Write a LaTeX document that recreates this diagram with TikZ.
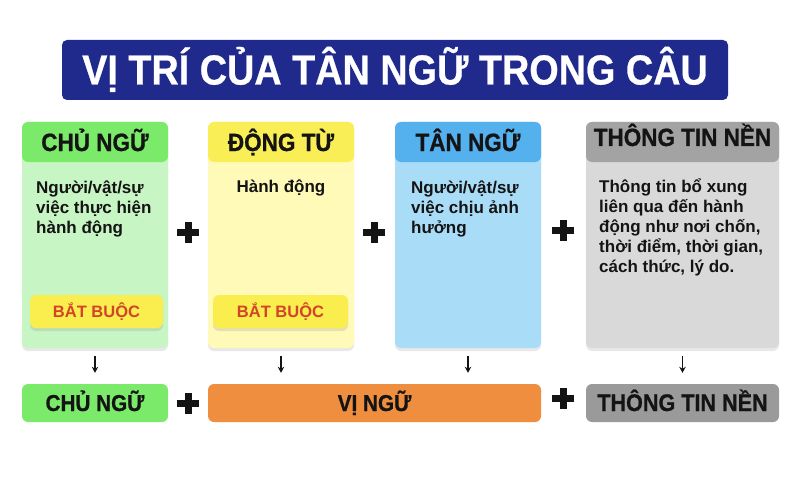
\documentclass[tikz,border=0pt]{standalone}
\usepackage{fontspec}
\setmainfont{Liberation Sans}
\newfontfamily\condfont[FakeStretch=0.9,FakeBold=0.8]{Liberation Sans}
\newfontfamily\titlefont[FakeStretch=0.9,FakeBold=0.6]{Liberation Sans}
\usetikzlibrary{shadows,arrows.meta}
\definecolor{titlebg}{HTML}{1F2A8C}
\definecolor{ghead}{HTML}{7BEA6A}
\definecolor{gbody}{HTML}{C8F5C4}
\definecolor{yhead}{HTML}{F9EE55}
\definecolor{ybody}{HTML}{FFFAB8}
\definecolor{bhead}{HTML}{55B0EE}
\definecolor{bbody}{HTML}{A9DDF7}
\definecolor{khead}{HTML}{A3A3A3}
\definecolor{kbody}{HTML}{D9D9D9}
\definecolor{reqbox}{HTML}{FAEE4E}
\definecolor{reqtext}{HTML}{D2432A}
\definecolor{orangebox}{HTML}{EE8E3E}
\definecolor{graybox}{HTML}{9A9A9A}
\definecolor{ink}{HTML}{141414}
\begin{document}
\begin{tikzpicture}[x=1pt,y=-1pt,
  card/.style={rounded corners=6pt, draw=none, inner sep=0pt,
    drop shadow={opacity=0.18, shadow xshift=0pt, shadow yshift=-3pt}},
  head/.style={rounded corners=6pt, draw=none, inner sep=0pt, minimum height=40pt,
    text height=18pt, text depth=0pt, text=ink,
    font=\condfont\bfseries\fontsize{25}{25}\selectfont},
  body/.style={inner sep=0pt, align=left, text=ink,
    font=\bfseries\fontsize{17}{20}\selectfont},
  req/.style={rounded corners=6pt, fill=reqbox, inner sep=0pt,
    minimum height=33pt, text=reqtext, text height=12pt, text depth=0pt,
    font=\bfseries\fontsize{16.5}{16.5}\selectfont,
    drop shadow={opacity=0.2, shadow xshift=0pt, shadow yshift=-3pt}},
  bottom/.style={rounded corners=6pt, inner sep=0pt, minimum height=38pt,
    text height=16pt, text depth=0pt, text=ink,
    font=\condfont\bfseries\fontsize{23}{23}\selectfont},
  arr/.style={draw=ink, line width=1.4pt, -{Stealth[length=6pt,width=6.5pt]}},
  plussign/.pic={\fill[ink] (-11,-3.5) rectangle (11,3.5);
                 \fill[ink] (-3.5,-10.5) rectangle (3.5,10.5);}
]
\useasboundingbox[fill=white] (0,0) rectangle (800,500);

% title
\node[rounded corners=5pt, fill=titlebg, minimum width=666pt, minimum height=60pt,
  inner sep=0pt, text=white, text height=29pt, text depth=0pt,
  font=\titlefont\bfseries\fontsize{42}{42}\selectfont] (title) at (395,70)
  {VỊ TRÍ CỦA TÂN NGỮ TRONG CÂU};

% cards
\node[card, fill=gbody, minimum width=146pt, minimum height=226pt] (c1) at (95,235) {};
\node[head, fill=ghead, minimum width=146pt] (h1) at (95,142) {CHỦ NGỮ};
\node[card, fill=ybody, minimum width=146pt, minimum height=226pt] (c2) at (281,235) {};
\node[head, fill=yhead, minimum width=146pt] (h2) at (281,142) {ĐỘNG TỪ};
\node[card, fill=bbody, minimum width=146pt, minimum height=226pt] (c3) at (468,235) {};
\node[head, fill=bhead, minimum width=146pt] (h3) at (468,142) {TÂN NGỮ};
\node[card, fill=kbody, minimum width=193pt, minimum height=226pt] (c4) at (682.5,235) {};
\node[head, fill=khead, minimum width=193pt, text depth=10pt] (h4) at (682.5,142) {THÔNG TIN NỀN};

% body texts
\node[body, anchor=north west] (t1) at (36,181)
  {Người/vật/sự\\việc thực hiện\\hành động};
\node[body, anchor=north] (t2) at (281,180) {Hành động};
\node[body, anchor=north west] (t3) at (411,181)
  {Người/vật/sự\\việc chịu ảnh\\hưởng};
\node[body, anchor=north west] (t4) at (599,179)
  {Thông tin bổ xung\\liên qua đến hành\\động như nơi chốn,\\thời điểm, thời gian,\\cách thức, lý do.};

% required boxes
\node[req, minimum width=133pt] (r1) at (96.5,311.5) {BẮT BUỘC};
\node[req, minimum width=135pt] (r2) at (280.5,311.5) {BẮT BUỘC};

% plus signs between cards
\pic at (188,232) {plussign};
\pic at (374,232) {plussign};
\pic at (563,230) {plussign};

% bottom row
\node[bottom, fill=ghead, minimum width=146pt] (b1) at (95,403) {CHỦ NGỮ};
\node[bottom, fill=orangebox, minimum width=333pt] (vn) at (374.5,403) {VỊ NGỮ};
\node[bottom, fill=graybox, minimum width=193pt,
  font=\condfont\bfseries\fontsize{24}{24}\selectfont] (b4) at (682.5,403) {THÔNG TIN NỀN};

\pic at (188,403) {plussign};
\pic at (563,398) {plussign};

% arrows
\coordinate (a2) at (c2.south |- vn.north);
\coordinate (a3) at (c3.south |- vn.north);
\draw[arr] ([yshift=-8pt]c1.south) -- ([yshift=11pt]b1.north);
\draw[arr] ([yshift=-8pt]c2.south) -- ([yshift=11pt]a2);
\draw[arr] ([yshift=-8pt]c3.south) -- ([yshift=11pt]a3);
\draw[arr] ([yshift=-8pt]c4.south) -- ([yshift=11pt]b4.north);
\end{tikzpicture}
\end{document}
